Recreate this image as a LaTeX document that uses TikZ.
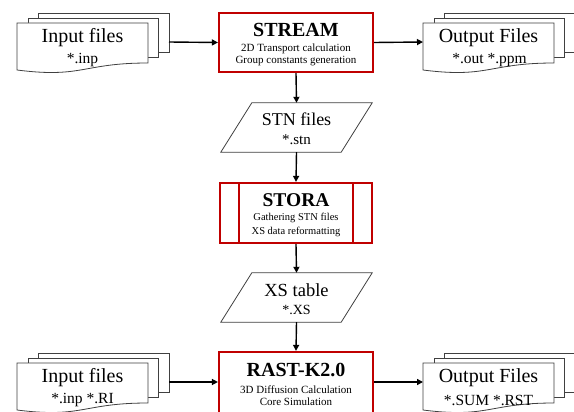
\documentclass[tikz,border=0pt]{standalone}
\usepackage{fontspec}
\setmainfont{Liberation Serif}
\usetikzlibrary{arrows.meta}
\definecolor{boxred}{RGB}{192,0,0}
\definecolor{docgray}{RGB}{64,64,64}
\begin{document}
\begin{tikzpicture}[x=1pt,y=-1pt,
  docline/.style={draw=docgray,line width=0.8pt,fill=white},
  redbox/.style={draw=boxred,line width=2.2pt,fill=white,inner sep=0pt},
  arr/.style={-{Triangle[length=6pt,width=6pt]},line width=1.4pt},
  big/.style={font=\fontsize{20}{24}\selectfont,inner sep=0pt},
  mid/.style={font=\fontsize{15.5}{18}\selectfont,inner sep=0pt},
  ttl/.style={font=\fontsize{20}{24}\selectfont\bfseries,inner sep=0pt},
  sml/.style={font=\fontsize{11}{13}\selectfont,inner sep=0pt},
  multidoc/.pic={
    \draw[docline] (21,-10) rectangle (152,29);
    \draw[docline] (11,-5) rectangle (141,34);
    \draw[docline] (0,0) -- (131,0) -- (131,40) .. controls (65.5,40) and (65.5,55.4) .. (0,47) -- cycle;
  }
]
\useasboundingbox (0,0) rectangle (574,412);
\clip (0,0) rectangle (574,412);

% ---- documents ----
\pic at (17,23) {multidoc};
\pic at (423,23) {multidoc};
\pic at (17,363) {multidoc};
\pic at (423,363) {multidoc};

\node[big] (in1t) at (82.5,38) {Input files};
\node[mid] (in1s) at (82.5,60) {*.inp};
\node[big] (out1t) at (488.5,38) {Output Files};
\node[mid] (out1s) at (489.5,60) {*.out *.ppm};
\node[big] (in2t) at (82.5,378) {Input files};
\node[mid] (in2s) at (82.5,400) {*.inp *.RI};
\node[big] (out2t) at (488.5,378) {Output Files};
\node[mid] (out2s) at (488.5,400) {*.SUM *.RST};

\coordinate (in1e) at (169,42);
\coordinate (out1w) at (423,42);
\coordinate (in2e) at (169,382);
\coordinate (out2w) at (423,382);

% ---- STREAM ----
\node[redbox,minimum width=154pt,minimum height=59pt] (stream) at (296,42.5) {};
\node[ttl] (streamt) at (296,30) {STREAM};
\node[sml] (streams1) at (296,49) {2D Transport calculation};
\node[sml] (streams2) at (296,61) {Group constants generation};

% ---- STN files ----
\node[minimum width=151pt,minimum height=49pt,inner sep=0pt] (stn) at (296.5,127.5) {};
\draw[docline] ([xshift=31pt]stn.north west) -- (stn.north east) -- ([xshift=-31pt]stn.south east) -- (stn.south west) -- cycle;
\node[font=\fontsize{18}{22}\selectfont,inner sep=0pt] (stnt) at (296.5,119) {STN files};
\node[font=\fontsize{15}{18}\selectfont,inner sep=0pt] (stns) at (296.5,140) {*.stn};

% ---- STORA ----
\node[redbox,minimum width=152pt,minimum height=60pt] (stora) at (296,213) {};
\draw[boxred,line width=2.2pt] (239,183) -- (239,243);
\draw[boxred,line width=2.2pt] (353,183) -- (353,243);
\node[font=\fontsize{19.5}{23}\selectfont\bfseries,inner sep=0pt] (storat) at (296,200) {STORA};
\node[font=\fontsize{10.5}{12}\selectfont,inner sep=0pt] (storas1) at (296,218) {Gathering STN files};
\node[font=\fontsize{10.5}{12}\selectfont,inner sep=0pt] (storas2) at (296,232) {XS data reformatting};

% ---- XS table ----
\node[minimum width=151pt,minimum height=49pt,inner sep=0pt] (xs) at (296.5,297.5) {};
\draw[docline] ([xshift=31pt]xs.north west) -- (xs.north east) -- ([xshift=-31pt]xs.south east) -- (xs.south west) -- cycle;
\node[font=\fontsize{18.5}{22}\selectfont,inner sep=0pt] (xst) at (296.5,290) {XS table};
\node[font=\fontsize{14}{17}\selectfont,inner sep=0pt] (xss) at (296.5,310) {*.XS};

% ---- RAST-K2.0 ----
\node[redbox,minimum width=154pt,minimum height=80pt] (rast) at (296,392) {};
\node[ttl] (rastt) at (296,370) {RAST-K2.0};
\node[sml] (rasts1) at (296,390) {3D Diffusion Calculation};
\node[sml] (rasts2) at (296,402) {Core Simulation};

% ---- connectors ----
\draw[arr] (in1e) -- (stream.west);
\draw[arr] (stream.east) -- (out1w);
\draw[arr] (stream.south) -- (stn.north);
\draw[arr] (stn.south) -- (stora.north);
\draw[arr] (stora.south) -- (xs.north);
\draw[arr] (xs.south) -- (rast.north);
\draw[arr] (in2e) -- (in2e -| rast.west);
\draw[arr] (rast.east |- out2w) -- (out2w);
\end{tikzpicture}
\end{document}
